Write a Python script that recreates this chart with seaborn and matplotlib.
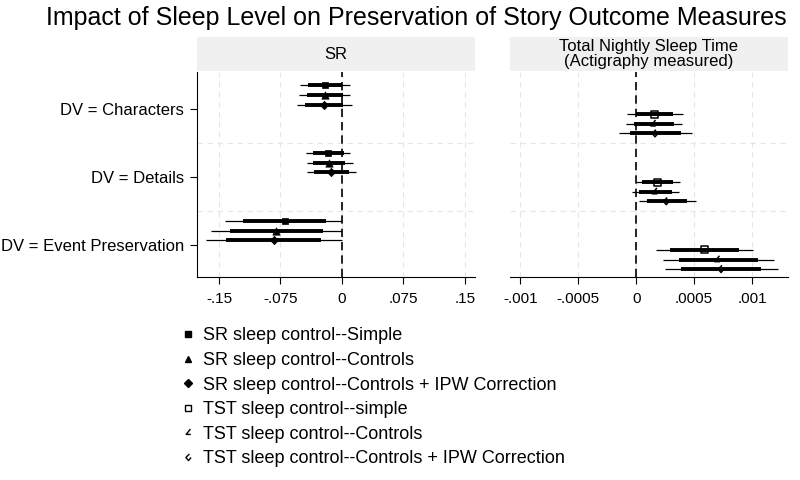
import numpy as np
import pandas as pd
import matplotlib
matplotlib.use('Agg')
import matplotlib.pyplot as plt
from matplotlib.path import Path
from matplotlib.lines import Line2D
import seaborn as sns

# outcomes and models
outcomes = ['DV = Characters', 'DV = Details', 'DV = Event Preservation']
sr_models = ['SR sleep control--Simple', 'SR sleep control--Controls',
             'SR sleep control--Controls + IPW Correction']
tst_models = ['TST sleep control--simple', 'TST sleep control--Controls',
              'TST sleep control--Controls + IPW Correction']

# SR panel: rows = outcome x model (Simple, Controls, IPW)
sr_coef = [-0.021, -0.021, -0.022, -0.017, -0.016, -0.013, -0.070, -0.080, -0.083]
sr_lo95 = [-0.051, -0.052, -0.055, -0.044, -0.043, -0.043, -0.143, -0.160, -0.166]
sr_hi95 = [0.010, 0.010, 0.012, 0.010, 0.013, 0.017, 0.000, 0.000, 0.000]
sr_lo90 = [-0.042, -0.043, -0.045, -0.035, -0.035, -0.034, -0.121, -0.137, -0.141]
sr_hi90 = [0.000, 0.001, 0.001, 0.002, 0.004, 0.008, -0.020, -0.023, -0.025]

# TST panel
tst_coef = [0.000156, 0.000148, 0.000162, 0.000182, 0.000160, 0.000259, 0.000588, 0.000700, 0.000732]
tst_lo95 = [-0.000080, -0.000092, -0.000153, 0.000000, -0.000037, 0.000020, 0.000167, 0.000228, 0.000245]
tst_hi95 = [0.000400, 0.000398, 0.000481, 0.000380, 0.000369, 0.000513, 0.001006, 0.001187, 0.001225]
tst_lo90 = [0.000000, -0.000023, -0.000058, 0.000049, 0.000020, 0.000092, 0.000294, 0.000366, 0.000389]
tst_hi90 = [0.000320, 0.000323, 0.000386, 0.000317, 0.000308, 0.000438, 0.000885, 0.001049, 0.001081]

sr_ticks = [-0.15, -0.075, 0, 0.075, 0.15]
sr_ticklabels = ['-.15', '-.075', '0', '.075', '.15']
tst_ticks = [-0.001, -0.0005, 0, 0.0005, 0.001]
tst_ticklabels = ['-.001', '-.0005', '0', '.0005', '.001']

sns.set_theme(style='white')
plt.rcParams['font.family'] = ['Liberation Sans', 'DejaVu Sans']
plt.rcParams['text.color'] = 'black'
plt.rcParams['xtick.color'] = 'black'
plt.rcParams['ytick.color'] = 'black'
narrow = ['Liberation Sans Narrow', 'Liberation Sans', 'DejaVu Sans']

# hollow symbols as they come out in the original
tri_open = Path([(0.5, 0.9), (-0.6, -0.5), (0.6, -0.5)],
                [Path.MOVETO, Path.LINETO, Path.LINETO])
dia_open = Path([(0.2, 0.8), (-0.6, 0.0), (0.0, -0.7), (0.6, 0.0)],
                [Path.MOVETO, Path.LINETO, Path.LINETO, Path.LINETO])
sr_markers = ['s', '^', 'D']
tst_markers = ['s', tri_open, dia_open]
sr_sizes = [24, 28, 18]
tst_sizes = [26, 30, 30]

offsets = np.array([-0.355, -0.213, -0.071, 0.071, 0.213, 0.355])


def build_df(models, coef, lo95, hi95, lo90, hi90, off):
    rows = []
    for i, dv in enumerate(outcomes):
        for j, m in enumerate(models):
            k = i * 3 + j
            rows.append(dict(dv=dv, model=m, y=i + 1 + off[j], coef=coef[k],
                             lo95=lo95[k], hi95=hi95[k], lo90=lo90[k], hi90=hi90[k]))
    return pd.DataFrame(rows)


sr_df = build_df(sr_models, sr_coef, sr_lo95, sr_hi95, sr_lo90, sr_hi90, offsets[:3])
tst_df = build_df(tst_models, tst_coef, tst_lo95, tst_hi95, tst_lo90, tst_hi90, offsets[3:])

fig = plt.figure(figsize=(8, 4.8), dpi=100)
ax1 = fig.add_axes([0.246, 0.4229, 0.3475, 0.427])
ax2 = fig.add_axes([0.6375, 0.4229, 0.3475, 0.427])


def draw_panel(ax, df, models, markers, sizes, filled, xlim, ticks, ticklabels):
    ax.set_xlim(*xlim)
    ax.set_ylim(3.47, 0.45)
    for t in ticks:
        ax.axvline(t, color='#e6e6e6', lw=0.8, ls=(0, (5, 4)), zorder=0)
    for yy in [1.5, 2.5]:
        ax.axhline(yy, color='#e6e6e6', lw=0.8, ls=(0, (5, 4)), zorder=0)
    ax.axvline(0, color='black', lw=1.2, ls=(0, (5, 3)), zorder=1)
    ax.hlines(df['y'], df['lo95'], df['hi95'], color='black', lw=0.9, zorder=2)
    ax.hlines(df['y'], df['lo90'], df['hi90'], color='black', lw=2.8, zorder=2)
    for m, mk, sz in zip(models, markers, sizes):
        sub = df[df['model'] == m]
        if filled:
            sns.scatterplot(data=sub, x='coef', y='y', ax=ax, marker=mk, s=sz,
                            color='black', edgecolor='black', linewidth=0.5, zorder=3)
        else:
            sns.scatterplot(data=sub, x='coef', y='y', ax=ax, marker=mk, s=sz,
                            facecolor='none', edgecolor='black', linewidth=1.1, zorder=3)
    ax.set_xticks(ticks)
    ax.set_xticklabels(ticklabels, fontsize=11)
    ax.set_xlabel('')
    ax.set_ylabel('')
    ax.tick_params(axis='x', direction='out', length=5, width=0.8, color='black', pad=6,
                   bottom=True)
    for s in ['top', 'right']:
        ax.spines[s].set_visible(False)
    ax.spines['bottom'].set_color('black')
    ax.spines['bottom'].set_linewidth(0.8)


draw_panel(ax1, sr_df, sr_models, sr_markers, sr_sizes, True, (-0.177, 0.162),
           sr_ticks, sr_ticklabels)
draw_panel(ax2, tst_df, tst_models, tst_markers, tst_sizes, False, (-0.00109, 0.00131),
           tst_ticks, tst_ticklabels)

ax1.set_yticks([1, 2, 3])
ax1.set_yticklabels(outcomes, fontsize=12)
ax1.tick_params(axis='y', direction='out', length=5, width=0.8, color='black', left=True, pad=4)
ax1.spines['left'].set_color('black')
ax1.spines['left'].set_linewidth(0.8)
ax2.set_yticks([])
ax2.spines['left'].set_visible(False)

# panel headers
for left, label in [(0.246, 'SR'), (0.6375, 'Total Nightly Sleep Time\n(Actigraphy measured)')]:
    hax = fig.add_axes([left, 0.852, 0.3475, 0.0708])
    hax.set_facecolor('#f0f0f0')
    hax.set_xticks([])
    hax.set_yticks([])
    for s in hax.spines.values():
        s.set_visible(False)
    hax.text(0.5, 0.5, label, ha='center', va='center', fontsize=12, family=narrow,
             linespacing=1.0, transform=hax.transAxes)

fig.text(0.52, 0.962, 'Impact of Sleep Level on Preservation of Story Outcome Measures',
         ha='center', va='center', fontsize=18, family=narrow)

# legend
handles = []
for mk in sr_markers:
    handles.append(Line2D([], [], ls='none', marker=mk, color='black', markersize=4))
for mk in tst_markers:
    handles.append(Line2D([], [], ls='none', marker=mk, markerfacecolor='none',
                          markeredgecolor='black', markersize=5, markeredgewidth=1.0))
fig.legend(handles, sr_models + tst_models, loc='upper left', bbox_to_anchor=(0.217, 0.333),
           frameon=False, fontsize=13, handlelength=0.8, handletextpad=0.43, labelspacing=0.42,
           borderaxespad=0)

fig.savefig('out.png', dpi=100)
